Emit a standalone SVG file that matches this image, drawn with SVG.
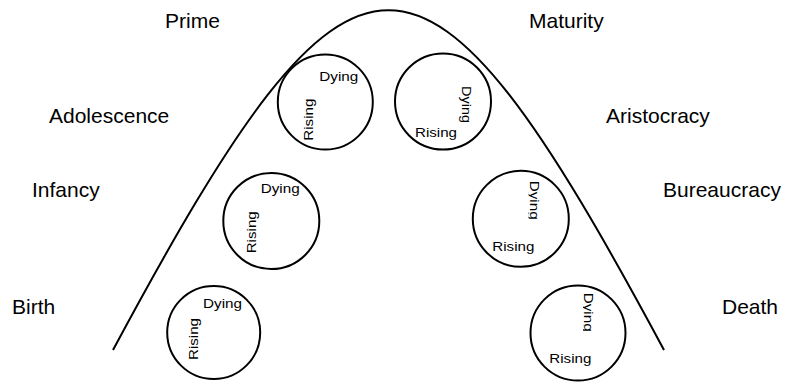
<svg xmlns="http://www.w3.org/2000/svg" width="786" height="382" viewBox="0 0 786 382">
<style>
.lbl{font-family:"Liberation Sans",Arial,sans-serif;font-size:21px;fill:#000}
.sm{font-family:"Liberation Sans",Arial,sans-serif;font-size:13.5px;fill:#000}
.c{fill:#fff;stroke:#000;stroke-width:2}
.curve{fill:none;stroke:#000;stroke-width:2}
</style>
<defs>
<clipPath id="clip5"><rect x="528.5" y="170" width="40" height="60"/></clipPath>
<clipPath id="clip6"><rect x="583" y="285" width="40" height="60"/></clipPath>
</defs>
<g id="connectors">
<path class="curve" d="M113,350 C356,-103 421,-103 664,350"/>
</g>
<g id="labels">
<text class="lbl" x="165" y="28">Prime</text>
<text class="lbl" x="49" y="123">Adolescence</text>
<text class="lbl" x="32" y="197">Infancy</text>
<text class="lbl" x="12" y="314">Birth</text>
<text class="lbl" x="529" y="28">Maturity</text>
<text class="lbl" x="606" y="123">Aristocracy</text>
<text class="lbl" x="663" y="197">Bureaucracy</text>
<text class="lbl" x="722" y="314">Death</text>
</g>
<g id="circle1">
<circle class="c" cx="213.7" cy="332.5" r="46.5"/>
<text class="sm" x="203" y="307.7" textLength="39" lengthAdjust="spacingAndGlyphs">Dying</text>
<text class="sm" transform="translate(197.7,360) rotate(-90)" textLength="42" lengthAdjust="spacingAndGlyphs">Rising</text>
</g>
<g id="circle2">
<circle class="c" cx="271.3" cy="221" r="48"/>
<text class="sm" x="260.7" y="193.3" textLength="39" lengthAdjust="spacingAndGlyphs">Dying</text>
<text class="sm" transform="translate(255.7,253.3) rotate(-90)" textLength="42" lengthAdjust="spacingAndGlyphs">Rising</text>
</g>
<g id="circle3">
<circle class="c" cx="325.3" cy="102" r="47.5"/>
<text class="sm" x="319.3" y="80.7" textLength="39" lengthAdjust="spacingAndGlyphs">Dying</text>
<text class="sm" transform="translate(312.7,140.7) rotate(-90)" textLength="42" lengthAdjust="spacingAndGlyphs">Rising</text>
</g>
<g id="circle4">
<circle class="c" cx="443" cy="101.5" r="48"/>
<text class="sm" transform="translate(461.7,86) rotate(90)" textLength="37" lengthAdjust="spacingAndGlyphs">Dying</text>
<text class="sm" x="415" y="136.7" textLength="42" lengthAdjust="spacingAndGlyphs">Rising</text>
</g>
<g id="circle5">
<circle class="c" cx="520.8" cy="218.8" r="48"/>
<g clip-path="url(#clip5)">
<text class="sm" transform="translate(529.5,180.7) rotate(90)" textLength="39" lengthAdjust="spacingAndGlyphs">Dying</text>
</g>
<text class="sm" x="492.3" y="250.7" textLength="42" lengthAdjust="spacingAndGlyphs">Rising</text>
</g>
<g id="circle6">
<circle class="c" cx="578" cy="333" r="47.5"/>
<g clip-path="url(#clip6)">
<text class="sm" transform="translate(584,292.7) rotate(90)" textLength="39" lengthAdjust="spacingAndGlyphs">Dying</text>
</g>
<text class="sm" x="549.3" y="363.3" textLength="42" lengthAdjust="spacingAndGlyphs">Rising</text>
</g>
</svg>
